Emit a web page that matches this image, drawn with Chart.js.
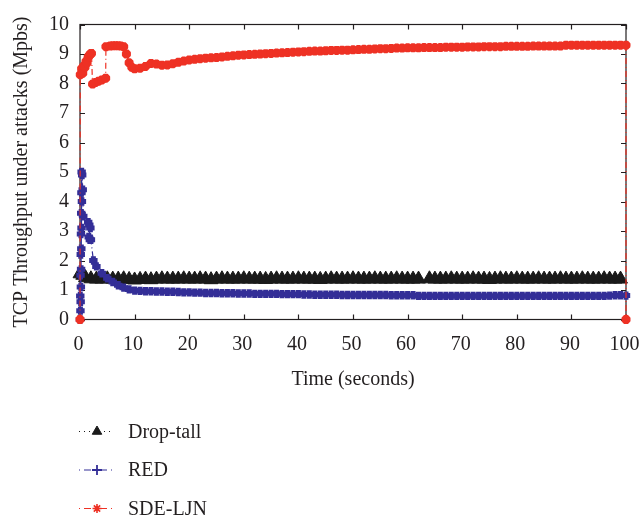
<!DOCTYPE html>
<html><head><meta charset="utf-8">
<script src="https://cdn.jsdelivr.net/npm/chart.js@4"></script>
<style>html,body{margin:0;padding:0;background:#fff}canvas{display:block}</style>
</head><body>
<canvas id="c" width="639" height="522"></canvas>
<script>
// ---------- data ----------
const seriesNames = ['Drop-tall', 'RED', 'SDE-LJN'];
const xTickValues = [0, 10, 20, 30, 40, 50, 60, 70, 80, 90, 100];
const yTickValues = [0, 1, 2, 3, 4, 5, 6, 7, 8, 9, 10];
const xTitle = 'Time (seconds)';
const yTitle = 'TCP Throughput under attacks (Mpbs)';

const dropTime = [0, 0.5, 1, 2, 3, 4, 5, 6, 7, 8, 9, 10, 11, 12, 13, 14, 15, 16, 17, 18, 19, 20,
  21, 22, 23, 24, 25, 26, 27, 28, 29, 30, 31, 32, 33, 34, 35, 36, 37, 38, 39, 40,
  41, 42, 43, 44, 45, 46, 47, 48, 49, 50, 51, 52, 53, 54, 55, 56, 57, 58, 59, 60,
  61, 62, 64, 65, 66, 67, 68, 69, 70, 71, 72, 73, 74, 75, 76, 77, 78, 79, 80,
  81, 82, 83, 84, 85, 86, 87, 88, 89, 90, 91, 92, 93, 94, 95, 96, 97, 98, 99, 100];
const dropValue = [1.55, 1.5, 1.42, 1.38, 1.37, 1.37, 1.38, 1.37, 1.37, 1.38, 1.36, 1.34, 1.36, 1.37, 1.35, 1.37, 1.38, 1.37, 1.37, 1.37,
  1.38, 1.37, 1.37, 1.38, 1.37, 1.35, 1.37, 1.38, 1.37, 1.37, 1.37, 1.38, 1.37, 1.37, 1.37, 1.36, 1.37, 1.38, 1.37, 1.37,
  1.37, 1.38, 1.37, 1.37, 1.37, 1.36, 1.37, 1.38, 1.37, 1.37, 1.37, 1.38, 1.37, 1.37, 1.37, 1.38, 1.37, 1.37, 1.37, 1.38,
  1.37, 1.37, 1.37, 1.37, 1.38, 1.37, 1.37, 1.37, 1.38, 1.37, 1.37, 1.37, 1.38, 1.37, 1.37, 1.36, 1.37, 1.38, 1.37, 1.37,
  1.38, 1.37, 1.37, 1.37, 1.38, 1.37, 1.37, 1.37, 1.38, 1.37, 1.37, 1.37, 1.38, 1.37, 1.37, 1.37, 1.38, 1.37, 1.37, 1.37];

const redTime = [0, 0.05, 0.08, 0.1, 0.12, 0.14, 0.16, 0.18, 0.2, 0.22, 0.24, 0.26, 0.28, 0.3, 0.35, 0.4, 0.5, 0.6,
  1.5, 1.6, 1.7, 1.8, 1.9, 2.0, 2.45,
  3, 4, 5, 6, 7, 8, 9, 10, 11, 12, 13, 14, 15, 16, 17, 18, 19, 20,
  21, 22, 23, 24, 25, 26, 27, 28, 29, 30, 31, 32, 33, 34, 35, 36, 37, 38, 39, 40,
  41, 42, 43, 44, 45, 46, 47, 48, 49, 50, 51, 52, 53, 54, 55, 56, 57, 58, 59, 60,
  61, 62, 63, 64, 65, 66, 67, 68, 69, 70, 71, 72, 73, 74, 75, 76, 77, 78, 79, 80,
  81, 82, 83, 84, 85, 86, 87, 88, 89, 90, 91, 92, 93, 94, 95, 96, 97, 98, 99, 100];
const redValue = [0, 0.8, 0.3, 1.5, 0.6, 2.2, 1.1, 2.9, 1.7, 3.6, 2.4, 4.3, 3.1, 5.0, 4.0, 4.9, 4.4, 3.5,
  3.3, 2.8, 3.2, 2.7, 3.1, 2.7, 2.0,
  1.80, 1.57, 1.40, 1.27, 1.16, 1.08, 1.02, 0.98, 0.97, 0.96, 0.96, 0.95, 0.95, 0.94, 0.94, 0.93, 0.92, 0.92,
  0.91, 0.91, 0.90, 0.90, 0.90, 0.89, 0.89, 0.89, 0.88, 0.88, 0.88, 0.87, 0.87, 0.87, 0.87, 0.87, 0.86, 0.86, 0.86, 0.86,
  0.85, 0.85, 0.84, 0.84, 0.84, 0.84, 0.84, 0.83, 0.83, 0.83, 0.83, 0.83, 0.83, 0.83, 0.83, 0.83, 0.82, 0.82, 0.82, 0.82,
  0.82, 0.80, 0.80, 0.80, 0.80, 0.80, 0.80, 0.80, 0.80, 0.80, 0.80, 0.80, 0.80, 0.80, 0.80, 0.80, 0.80, 0.80, 0.80, 0.80,
  0.80, 0.80, 0.80, 0.80, 0.80, 0.80, 0.80, 0.80, 0.80, 0.80, 0.80, 0.80, 0.80, 0.80, 0.80, 0.80, 0.81, 0.82, 0.82, 0.81];

const sdeTime = [0, 0.05, 0.3, 0.5, 0.7, 0.9, 1.1, 1.3, 1.5, 1.7, 1.9, 2.1, 2.3, 2.8, 3.4, 4, 4.7,
  4.75, 5.5, 6, 6.5, 7, 7.5, 8, 8.5, 9, 9.5, 10, 11, 12, 13, 14, 15, 16, 17, 18, 19, 20,
  21, 22, 23, 24, 25, 26, 27, 28, 29, 30, 31, 32, 33, 34, 35, 36, 37, 38, 39, 40,
  41, 42, 43, 44, 45, 46, 47, 48, 49, 50, 51, 52, 53, 54, 55, 56, 57, 58, 59, 60,
  61, 62, 63, 64, 65, 66, 67, 68, 69, 70, 71, 72, 73, 74, 75, 76, 77, 78, 79, 80,
  81, 82, 83, 84, 85, 86, 87, 88, 89, 90, 91, 92, 93, 94, 95, 96, 97, 98, 99, 100, 100];
const sdeValue = [0, 8.3, 8.5, 8.35, 8.6, 8.55, 8.75, 8.7, 8.9, 8.95, 9.0, 9.02, 7.98, 8.03, 8.08, 8.12, 8.18,
  9.25, 9.27, 9.28, 9.28, 9.28, 9.27, 9.25, 9.0, 8.7, 8.55, 8.5, 8.52, 8.58, 8.68, 8.66, 8.62, 8.63, 8.67, 8.72, 8.76, 8.8,
  8.82, 8.84, 8.86, 8.87, 8.88, 8.9, 8.92, 8.94, 8.96, 8.97, 8.98, 8.99, 9.0, 9.01, 9.02, 9.03, 9.04, 9.05, 9.06, 9.07,
  9.08, 9.09, 9.1, 9.1, 9.11, 9.12, 9.12, 9.13, 9.13, 9.14, 9.15, 9.16, 9.16, 9.17, 9.18, 9.18, 9.19, 9.2, 9.2, 9.21,
  9.21, 9.21, 9.22, 9.22, 9.22, 9.22, 9.23, 9.23, 9.23, 9.23, 9.24, 9.24, 9.24, 9.25, 9.25, 9.25, 9.25, 9.26, 9.26, 9.26,
  9.26, 9.26, 9.27, 9.27, 9.27, 9.27, 9.27, 9.27, 9.3, 9.3, 9.3, 9.3, 9.3, 9.3, 9.3, 9.3, 9.3, 9.3, 9.3, 9.3, 0];

// ---------- chart ----------
const FONT = '"Liberation Serif", "Times New Roman", serif';
const TEXT = '#231f20';
const pts = (t, v) => t.map((x, i) => ({x: x, y: v[i]}));

const frame = {
  id: 'frame',
  beforeDatasetsDraw(chart) {
    const {ctx, chartArea: a, scales: {x, y}} = chart;
    ctx.save();
    ctx.strokeStyle = '#231f20';
    ctx.lineWidth = 1.2;
    ctx.beginPath();
    xTickValues.forEach(v => {
      const px = Math.round(x.getPixelForValue(v)) + 0.5;
      ctx.moveTo(px, a.bottom); ctx.lineTo(px, a.bottom - 5);
      ctx.moveTo(px, a.top); ctx.lineTo(px, a.top + 5);
    });
    yTickValues.forEach(v => {
      const py = Math.round(y.getPixelForValue(v)) + 0.5;
      ctx.moveTo(a.left, py); ctx.lineTo(a.left + 5, py);
      ctx.moveTo(a.right, py); ctx.lineTo(a.right - 5, py);
    });
    ctx.stroke();
    ctx.strokeRect(a.left, a.top, a.right - a.left, a.bottom - a.top);
    ctx.restore();
  }
};

const legendRows = [431.5, 470, 508.5];
const sideLegend = {
  id: 'sideLegend',
  afterDraw(chart) {
    const ctx = chart.ctx;
    chart.data.datasets.forEach(ds => {
      const y = legendRows[seriesNames.indexOf(ds.label)];
      ctx.save();
      ctx.strokeStyle = ds.borderColor;
      ctx.lineWidth = 1.2;
      ctx.setLineDash(ds.legendDash);
      ctx.beginPath(); ctx.moveTo(79, y); ctx.lineTo(114, y); ctx.stroke();
      ctx.setLineDash([]);
      ctx.fillStyle = ds.pointBackgroundColor;
      ctx.strokeStyle = ds.borderColor;
      ctx.lineWidth = ds.legendBorder;
      Chart.helpers.drawPoint(ctx, {pointStyle: ds.pointStyle, radius: ds.legendRadius, borderWidth: ds.legendBorder, rotation: 0}, 97, y);
      ctx.fillStyle = TEXT;
      ctx.font = '20px ' + FONT;
      ctx.textBaseline = 'middle';
      ctx.textAlign = 'left';
      ctx.fillText(ds.label, 128, y + 1);
      ctx.restore();
    });
  }
};

new Chart(document.getElementById('c'), {
  type: 'line',
  data: {
    datasets: [
      {
        label: seriesNames[2], data: pts(sdeTime, sdeValue), order: 0,
        borderColor: '#ee3124', borderWidth: 1.2, borderDash: [6, 3, 1, 3], legendDash: [1, 4, 7, 4],
        pointStyle: 'star', pointRadius: 4.5, legendRadius: 4.5, pointBorderWidth: 3.4, legendBorder: 1.6,
        pointBackgroundColor: '#ee3124', pointBorderColor: '#ee3124', clip: false
      },
      {
        label: seriesNames[1], data: pts(redTime, redValue), order: 1,
        borderColor: '#332e97', borderWidth: 1.2, borderDash: [6, 3, 1, 3], legendDash: [1, 4, 7, 4],
        pointStyle: 'cross', pointRadius: 4.2, legendRadius: 5, pointBorderWidth: 5, legendBorder: 1.8,
        pointBackgroundColor: '#332e97', pointBorderColor: '#332e97', clip: false
      },
      {
        label: seriesNames[0], data: pts(dropTime, dropValue), order: 2,
        borderColor: '#1a1a1a', borderWidth: 1, borderDash: [1, 3], legendDash: [1, 4],
        pointStyle: 'triangle', pointRadius: 8, legendRadius: 5.5, pointBorderWidth: 1, legendBorder: 1,
        pointBackgroundColor: '#1a1a1a', pointBorderColor: '#1a1a1a', clip: false
      }
    ]
  },
  options: {
    responsive: false,
    animation: false,
    events: [],
    layout: {autoPadding: false, padding: {left: 0, right: 13, top: 24.5, bottom: 122.5}},
    plugins: {legend: {display: false}, tooltip: {enabled: false}},
    font: {family: FONT},
    scales: {
      x: {
        type: 'linear', min: 0, max: 100,
        afterBuildTicks: s => { s.ticks = xTickValues.map(v => ({value: v})); },
        afterFit: s => { s.height = 80; s.paddingLeft = 0; s.paddingRight = 0; },
        grid: {display: false}, border: {display: false},
        ticks: {padding: 5, labelOffset: -1.5, color: TEXT, font: {family: FONT, size: 20}, maxRotation: 0, autoSkip: false},
        title: {display: true, text: xTitle, color: TEXT, font: {family: FONT, size: 20}, padding: {top: 0, bottom: 8}}
      },
      y: {
        type: 'linear', min: 0, max: 10,
        afterBuildTicks: s => { s.ticks = yTickValues.map(v => ({value: v})); },
        afterFit: s => { s.width = 80; s.paddingTop = 0; s.paddingBottom = 0; },
        grid: {display: false}, border: {display: false},
        ticks: {padding: 3, color: TEXT, font: {family: FONT, size: 20}},
        title: {display: true, text: yTitle, color: TEXT, font: {family: FONT, size: 20}, padding: {top: 10, bottom: 0}}
      }
    }
  },
  plugins: [frame, sideLegend]
});
</script>
</body></html>
